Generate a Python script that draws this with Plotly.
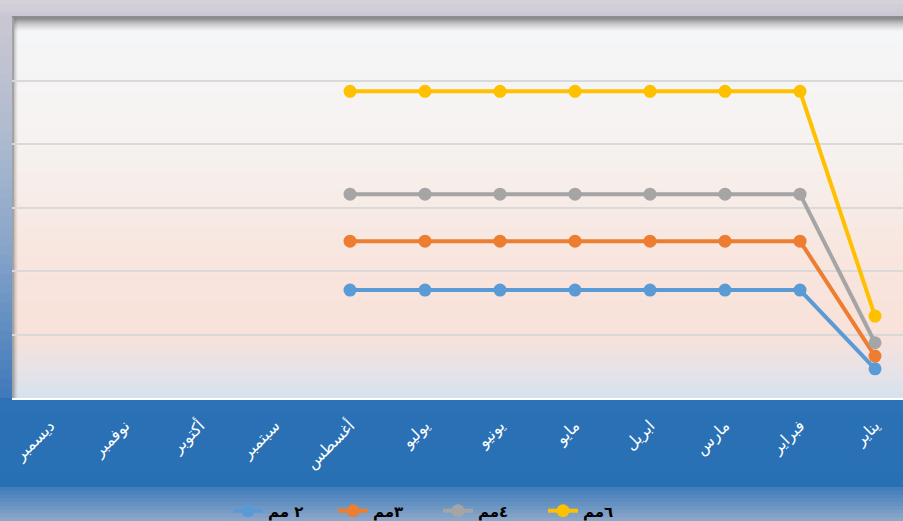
import plotly.graph_objects as go

# ---------------- data ----------------
months = ["يناير", "فبراير", "مارس", "ابريل", "مايو", "يونيو",
          "يوليو", "أغسطس", "سبتمبر", "أكتوبر", "نوفمبر", "ديسمبر"]
series_names = ["٢ مم", "٣مم", "٤مم", "٦مم"]
s_2mm = [0.46, 1.70, 1.70, 1.70, 1.70, 1.70, 1.70, 1.70, None, None, None, None]
s_3mm = [0.66, 2.47, 2.47, 2.47, 2.47, 2.47, 2.47, 2.47, None, None, None, None]
s_4mm = [0.87, 3.21, 3.21, 3.21, 3.21, 3.21, 3.21, 3.21, None, None, None, None]
s_6mm = [1.29, 4.83, 4.83, 4.83, 4.83, 4.83, 4.83, 4.83, None, None, None, None]
colors = ["#5B9BD5", "#ED7D31", "#A5A5A5", "#FFC000"]

W, H = 903, 521
ML, MR, MT, MB = 12, 0, 17, 123
PW, PH = W - ML - MR, H - MT - MB
Y_BOT = H - MB


def px(x):
    return (x - ML) / PW


def py(y):
    return (Y_BOT - y) / PH


def hex2rgb(h):
    h = h.lstrip("#")
    return tuple(int(h[i:i + 2], 16) for i in (0, 2, 4))


def interp(stops, t):
    for (t0, c0), (t1, c1) in zip(stops[:-1], stops[1:]):
        if t0 <= t <= t1:
            f = 0 if t1 == t0 else (t - t0) / (t1 - t0)
            a, b = hex2rgb(c0), hex2rgb(c1)
            return "rgb(%d,%d,%d)" % tuple(round(a[i] + (b[i] - a[i]) * f) for i in range(3))
    return stops[-1][1]


shapes = []


def vgrad(x0, x1, y0, y1, stops, n):
    for i in range(n):
        ya = y0 + (y1 - y0) * i / n
        yb = y0 + (y1 - y0) * (i + 1) / n + 1.5
        c = interp(stops, (i + 0.5) / n)
        shapes.append(dict(type="rect", xref="paper", yref="paper",
                           x0=px(x0), x1=px(x1), y0=py(ya), y1=py(min(yb, y1)),
                           fillcolor=c, line=dict(width=0), layer="below"))


def rect(x0, x1, y0, y1, color):
    shapes.append(dict(type="rect", xref="paper", yref="paper",
                       x0=px(x0), x1=px(x1), y0=py(y0), y1=py(y1),
                       fillcolor=color, line=dict(width=0), layer="below"))


# top strip and left strip
vgrad(0, W, 0, 17, [(0, "#d7d3da"), (1, "#cac7d2")], 4)
vgrad(0, ML, 17, Y_BOT, [(0, "#cac7d2"), (0.3, "#b0bbcf"), (0.6, "#88a5ca"), (1, "#3e79ba")], 40)
# plot area
vgrad(ML, W, 17, 31, [(0, "#7c7c7c"), (0.5, "#c9c9cb"), (1, "#f4f5f7")], 10)
vgrad(ML, W, 31, Y_BOT, [(0, "#f5f6f8"), (0.3, "#f6f2f0"), (0.64, "#f8e5dd"), (0.82, "#f8e2da"),
                          (0.9, "#ece2e3"), (1, "#d6e2ef")], 60)
# left frame + inner shadow
rect(ML, ML + 2, 17, Y_BOT, "#a3a3a3")
for i, a in enumerate([0.35, 0.22, 0.12, 0.05]):
    rect(ML + 2 + i, ML + 3 + i, 17, Y_BOT, "rgba(110,110,110,%s)" % a)
rect(ML, W, 16, 18, "#8c8c8c")
# blue band under plot
vgrad(0, W, Y_BOT, 487, [(0, "#3676b9"), (0.1, "#2b70b5"), (1, "#2870b4")], 6)
# striped legend area
vgrad(0, W, 487, H, [(0, "#3e7bba"), (1, "#8ea9c9")], 9)

fig = go.Figure()
for name, vals, col in zip(series_names, [s_2mm, s_3mm, s_4mm, s_6mm], colors):
    fig.add_trace(go.Scatter(x=months, y=vals, name=name, mode="lines+markers",
                             line=dict(color=col, width=4),
                             marker=dict(color=col, size=13),
                             connectgaps=False))

fig.update_layout(
    width=W, height=H,
    margin=dict(l=ML, r=MR, t=MT, b=MB, pad=0, autoexpand=False),
    paper_bgcolor="#2a6fb4",
    plot_bgcolor="rgba(0,0,0,0)",
    shapes=shapes,
    showlegend=True,
    legend=dict(orientation="h", xref="container", yref="container",
                x=228 / W, xanchor="left", y=(H - 511) / H, yanchor="middle",
                bgcolor="rgba(0,0,0,0)", entrywidth=60,
                font=dict(family="DejaVu Sans", size=15, color="black", weight="bold")),
    xaxis=dict(type="category", categoryorder="array", categoryarray=months,
               range=[11.507, -0.373], showgrid=False, zeroline=False, automargin=False,
               showline=True, linecolor="white", linewidth=2,
               ticks="", tickangle=-45, ticklabelstandoff=10,
               tickfont=dict(family="DejaVu Sans", size=16, color="white")),
    yaxis=dict(range=[0, 6], dtick=1, showticklabels=False, showgrid=True, automargin=False,
               gridcolor="#d9d9d9", gridwidth=2, zeroline=False, showline=False),
)

fig.write_html("out.html", config={"displayModeBar": False},
               post_script="document.body.style.margin='0';document.body.style.overflow='hidden';")
